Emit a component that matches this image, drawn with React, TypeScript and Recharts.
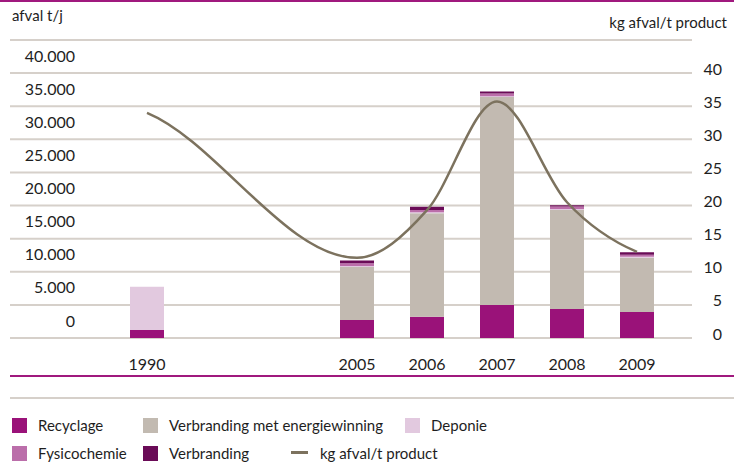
import React from "react";
import {
  ComposedChart,
  Bar,
  Line,
  XAxis,
  YAxis,
  CartesianGrid,
} from "recharts";

// categories (two empty slots keep the 1990 gap)
const years = ["1990", "", " ", "2005", "2006", "2007", "2008", "2009"];

// afval t/j per soort
const recyclage = [1210, null, null, 2720, 3220, 4985, 4380, 3930];
const energiewinning = [0, null, null, 8000, 15620, 31420, 14960, 8200];
const deponie = [6540, null, null, 150, 150, 100, 150, 150];
const fysicochemie = [0, null, null, 400, 340, 400, 350, 300];
const verbranding = [0, null, null, 450, 500, 300, 200, 350];

// kg afval / t product
const kgPerTon = [34.0, null, null, 12.1, 19.3, 35.7, 20.5, 13.0];

const leftTicks = [0, 5000, 10000, 15000, 20000, 25000, 30000, 35000, 40000, 45000];
const rightTicks = [0, 5, 10, 15, 20, 25, 30, 35, 40, 45];

const COLORS = {
  recyclage: "#9a1279",
  energie: "#c2bab1",
  deponie: "#e2c9df",
  fysico: "#bb6eaa",
  verbranding: "#6a0b57",
  line: "#7c725e",
  grid: "#d6d0ca",
  rule: "#a0197e",
  text: "#1e1e1e",
};

const FONT = "Lato, 'Open Sans', sans-serif";

const data = years.map((year, i) => ({
  year,
  recyclage: recyclage[i],
  energiewinning: energiewinning[i],
  deponie: deponie[i],
  fysicochemie: fysicochemie[i],
  verbranding: verbranding[i],
  kg: kgPerTon[i],
}));

const fmtThousands = (v: number) =>
  String(v).replace(/\B(?=(\d{3})+(?!\d))/g, ".");

// monotone cubic, but with softer end tangents than d3's monotoneX
function softMonotone(ctx: any) {
  let xs: number[] = [];
  let ys: number[] = [];
  const END = 0.6;
  return {
    areaStart() {},
    areaEnd() {},
    lineStart() {
      xs = [];
      ys = [];
    },
    point(x: number, y: number) {
      xs.push(+x);
      ys.push(+y);
    },
    lineEnd() {
      const n = xs.length;
      if (!n) return;
      ctx.moveTo(xs[0], ys[0]);
      if (n === 1) return;
      const d: number[] = [];
      for (let i = 0; i < n - 1; i++) d.push((ys[i + 1] - ys[i]) / (xs[i + 1] - xs[i]));
      const m: number[] = new Array(n).fill(0);
      m[0] = END * d[0];
      m[n - 1] = END * d[n - 2];
      for (let i = 1; i < n - 1; i++) {
        const s0 = d[i - 1];
        const s1 = d[i];
        if (s0 * s1 <= 0) continue;
        const h0 = xs[i] - xs[i - 1];
        const h1 = xs[i + 1] - xs[i];
        const p = (s0 * h1 + s1 * h0) / (h0 + h1);
        m[i] = Math.sign(s0) * Math.min(Math.abs(s0), Math.abs(s1), 0.5 * Math.abs(p)) * 2;
      }
      for (let i = 0; i < n - 1; i++) {
        const dx = (xs[i + 1] - xs[i]) / 3;
        ctx.bezierCurveTo(
          xs[i] + dx,
          ys[i] + dx * m[i],
          xs[i + 1] - dx,
          ys[i + 1] - dx * m[i + 1],
          xs[i + 1],
          ys[i + 1]
        );
      }
    },
  };
}

const LeftTick = (props: any) => {
  const { y, payload } = props;
  if (payload.value > 40000) return null;
  return (
    <text
      x={75}
      y={y - 18}
      textAnchor="end"
      dominantBaseline="central"
      fontSize={16}
      fontFamily={FONT}
      fill={COLORS.text}
    >
      {fmtThousands(payload.value)}
    </text>
  );
};

const RightTick = (props: any) => {
  const { y, payload } = props;
  if (payload.value > 40) return null;
  return (
    <text
      x={722}
      y={y - 5}
      textAnchor="end"
      dominantBaseline="central"
      fontSize={16}
      fontFamily={FONT}
      fill={COLORS.text}
    >
      {payload.value}
    </text>
  );
};

const YearTick = (props: any) => {
  const { x, y, payload } = props;
  const label = String(payload.value).trim();
  if (!label) return null;
  return (
    <text
      x={x}
      y={y + 17}
      textAnchor="middle"
      dominantBaseline="central"
      fontSize={16}
      fontFamily={FONT}
      fill={COLORS.text}
    >
      {label}
    </text>
  );
};

const legendRows = [
  [
    { label: "Recyclage", color: COLORS.recyclage, x: 12 },
    { label: "Verbranding met energiewinning", color: COLORS.energie, x: 143 },
    { label: "Deponie", color: COLORS.deponie, x: 405 },
  ],
  [
    { label: "Fysicochemie", color: COLORS.fysico, x: 12 },
    { label: "Verbranding", color: COLORS.verbranding, x: 143 },
  ],
];

export default function App() {
  const textStyle: React.CSSProperties = {
    position: "absolute",
    fontFamily: FONT,
    fontSize: 15,
    color: COLORS.text,
    lineHeight: "18px",
    whiteSpace: "nowrap",
  };

  return (
    <div
      style={{
        position: "absolute",
        left: 0,
        top: 0,
        width: 734,
        height: 464,
        background: "#fff",
        overflow: "hidden",
      }}
    >
      {/* top and separator rules */}
      <div style={{ position: "absolute", left: 0, top: 0, width: 734, height: 2, background: COLORS.rule }} />
      <div style={{ position: "absolute", left: 10, top: 375, width: 724, height: 2, background: COLORS.rule }} />
      <div style={{ position: "absolute", left: 10, top: 397, width: 724, height: 2, background: COLORS.grid }} />

      <div style={{ ...textStyle, left: 12, top: 6 }}>afval t/j</div>
      <div style={{ ...textStyle, right: 7, top: 13 }}>kg afval/t product</div>

      <div style={{ position: "absolute", left: 0, top: 0 }}>
        <ComposedChart
          width={734}
          height={464}
          data={data}
          margin={{ top: 40, right: 41, bottom: 96, left: 9 }}
        >
          <CartesianGrid
            horizontal
            vertical={false}
            stroke={COLORS.grid}
            strokeWidth={2}
            yAxisId="left"
          />
          <XAxis
            dataKey="year"
            axisLine={false}
            tickLine={false}
            height={30}
            padding={{ left: 102, right: 20 }}
            tick={<YearTick />}
            interval={0}
          />
          <YAxis
            yAxisId="left"
            orientation="left"
            width={1}
            domain={[0, 45000]}
            ticks={leftTicks}
            axisLine={false}
            tickLine={false}
            tick={<LeftTick />}
            interval={0}
          />
          <YAxis
            yAxisId="right"
            orientation="right"
            width={1}
            domain={[0, 45]}
            ticks={rightTicks}
            axisLine={false}
            tickLine={false}
            tick={<RightTick />}
            interval={0}
          />
          <Bar yAxisId="left" dataKey="recyclage" stackId="a" fill={COLORS.recyclage} barSize={34} isAnimationActive={false} />
          <Bar yAxisId="left" dataKey="energiewinning" stackId="a" fill={COLORS.energie} barSize={34} isAnimationActive={false} />
          <Bar yAxisId="left" dataKey="deponie" stackId="a" fill={COLORS.deponie} barSize={34} isAnimationActive={false} />
          <Bar yAxisId="left" dataKey="fysicochemie" stackId="a" fill={COLORS.fysico} barSize={34} isAnimationActive={false} />
          <Bar yAxisId="left" dataKey="verbranding" stackId="a" fill={COLORS.verbranding} barSize={34} isAnimationActive={false} />
          <Line
            yAxisId="right"
            dataKey="kg"
            type={softMonotone as any}
            stroke={COLORS.line}
            strokeWidth={2.5}
            dot={false}
            activeDot={false}
            connectNulls
            isAnimationActive={false}
          />
        </ComposedChart>
      </div>

      {/* legend */}
      {legendRows.map((row, r) =>
        row.map((item) => (
          <React.Fragment key={item.label}>
            <div
              style={{
                position: "absolute",
                left: item.x,
                top: 418 + r * 28,
                width: 15,
                height: 15,
                background: item.color,
              }}
            />
            <div style={{ ...textStyle, left: item.x + 26, top: 416 + r * 28 }}>{item.label}</div>
          </React.Fragment>
        ))
      )}
      <div
        style={{
          position: "absolute",
          left: 291,
          top: 451,
          width: 17,
          height: 2.5,
          background: COLORS.line,
        }}
      />
      <div style={{ ...textStyle, left: 320, top: 444 }}>kg afval/t product</div>
    </div>
  );
}
